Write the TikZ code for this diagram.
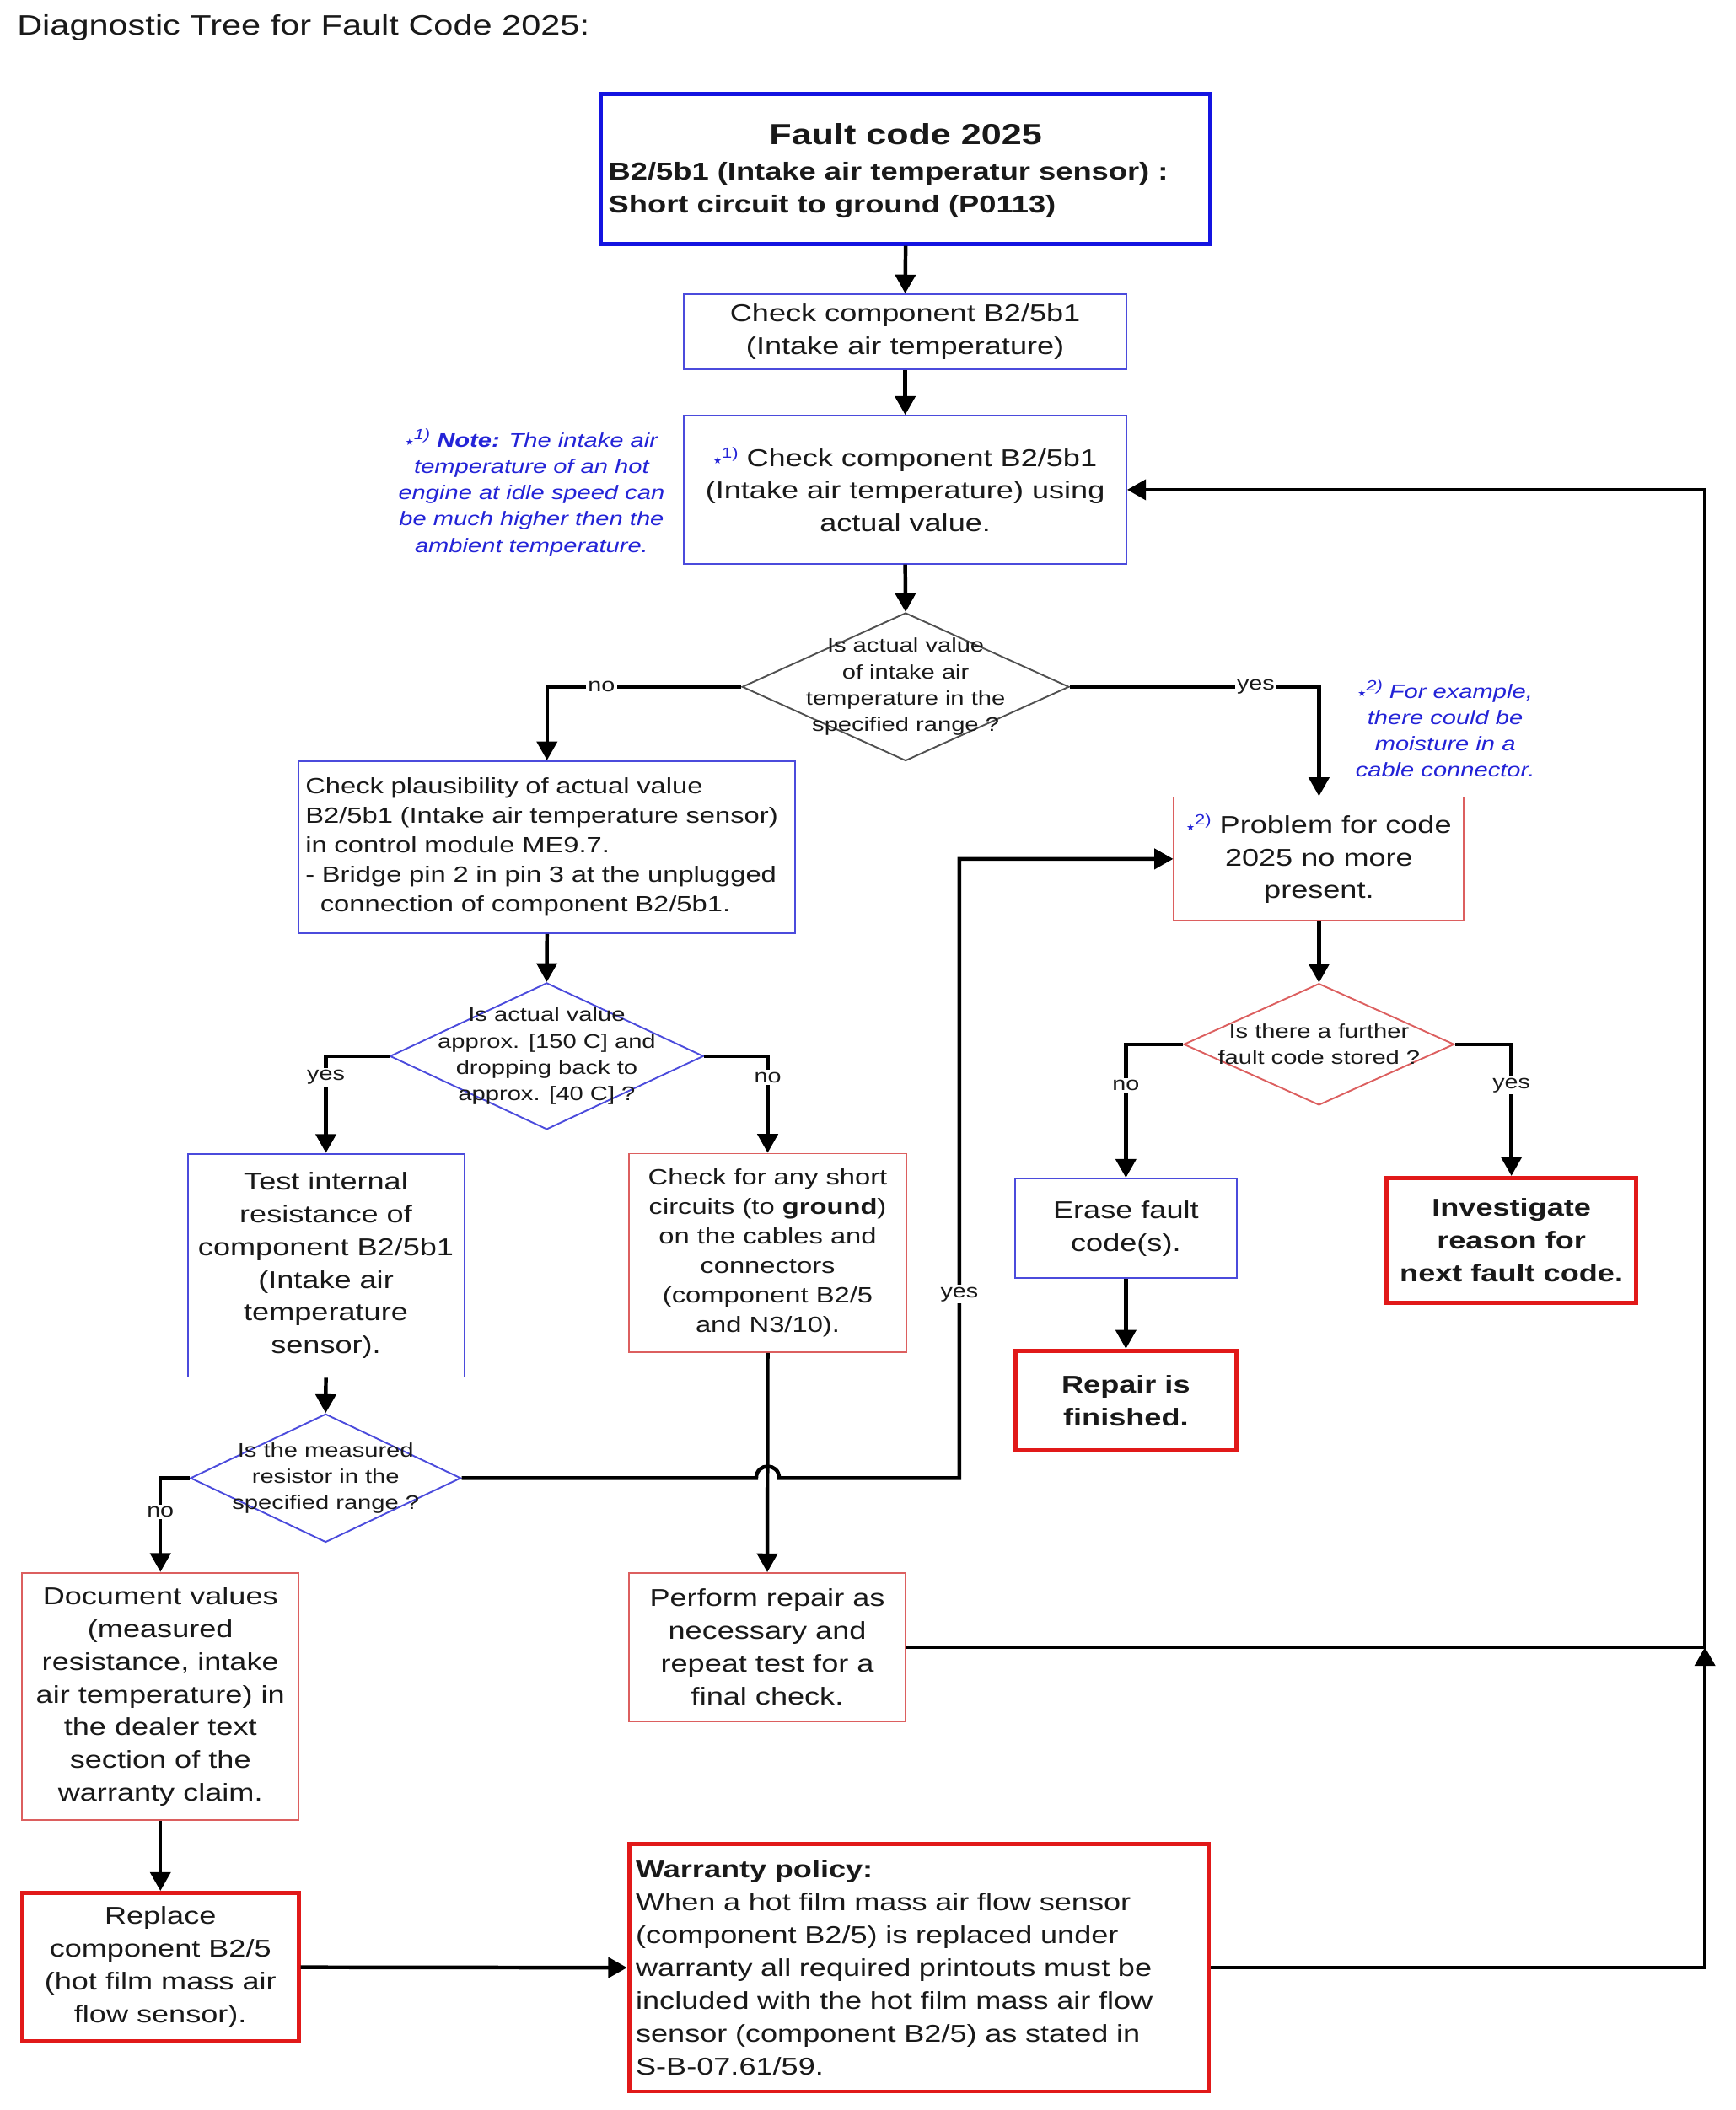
\documentclass[tikz,border=0pt]{standalone}
\usepackage{fontspec}
\setmainfont{Liberation Sans}[FakeStretch=1.25]
\newfontfamily\djv{DejaVu Sans}
\usetikzlibrary{arrows.meta,shapes.geometric}
\definecolor{txt}{RGB}{25,25,25}
\definecolor{topblue}{RGB}{20,20,225}
\definecolor{boxblue}{RGB}{75,75,220}
\definecolor{noteblue}{RGB}{35,35,215}
\definecolor{redthin}{RGB}{220,95,95}
\definecolor{redthick}{RGB}{225,25,25}
\definecolor{diagray}{RGB}{80,80,80}
\newcommand\fs[2]{\fontsize{#1}{#2}\selectfont}
\newcommand\fnm[1]{{\color{noteblue}\raisebox{1.5pt}{\djv\fs{7}{7}★}\fs{11}{11}\raisebox{6pt}{#1)}}}
\begin{document}
\begin{tikzpicture}[x=1pt,y=-1pt,
  sz/.style 2 args={minimum width=#1pt, minimum height=#2pt},
  box/.style={draw, line width=1.2pt, inner sep=0pt, align=center, text=txt, font=\fs{18.1}{24.4}},
  bbox/.style={box, draw=boxblue},
  rbox/.style={box, draw=redthin},
  rthick/.style={box, draw=redthick, line width=3pt},
  dia/.style={diamond, draw, line width=1.2pt, inner sep=0pt},
  dtext/.style={align=center, text=txt, font=\fs{14.6}{19.6}, inner sep=0pt},
  lbl/.style={fill=white, text=txt, inner sep=1.5pt, font=\fs{14.4}{16}},
  arr/.style={line width=2.8pt, -{Triangle[length=14pt,width=15pt]}},
  note/.style={text=noteblue, align=center, font=\fs{14.6}{19.5}\itshape, inner sep=0pt},
  plain/.style={text=txt, inner sep=0pt}
]
\useasboundingbox (0,0) rectangle (1290.1,1568.3);

% title
\node[plain, anchor=base west, font=\fs{20.8}{25}] (title) at (12.5,26) {Diagnostic Tree for Fault Code 2025:};

% top box
\node[draw=topblue, line width=3pt, sz={453}{111.3}, inner sep=0pt] (top) at (673,125.6) {};
\node[plain, anchor=base, font=\fs{21.6}{26}\bfseries] (t1) at (673,107.7) {Fault code 2025};
\node[plain, anchor=base west, font=\fs{18.2}{24}\bfseries] (t2) at (452,133.5) {B2/5b1 (Intake air temperatur sensor) :};
\node[plain, anchor=base west, font=\fs{18.2}{24}\bfseries] (t3) at (452,158.5) {Short circuit to ground (P0113)};

% boxes
\node[bbox, sz={328.7}{56}] (b2) at (672.7,246.7) {Check component B2/5b1\\(Intake air temperature)};
\node[bbox, sz={328.7}{110}] (b3) at (672.7,364) {\fnm{1} Check component B2/5b1\\(Intake air temperature) using\\actual value.};
\node[bbox, sz={369}{127.8}, text width=359pt, inner xsep=5pt, align=left, font=\fs{16.4}{22}] (b4) at (406.5,629.6)
  {Check plausibility of actual value\\B2/5b1 (Intake air temperature sensor)\\in control module ME9.7.\\- Bridge pin 2 in pin 3 at the unplugged\\\hspace*{11pt}connection of component B2/5b1.};
\node[rbox, sz={215.5}{92}] (b5) at (980.2,638.4) {\fnm{2} Problem for code\\2025 no more\\present.};
\node[bbox, sz={205.5}{166}] (b6) at (242.2,940.5) {Test internal\\resistance of\\component B2/5b1\\(Intake air\\temperature\\sensor).};
\node[rbox, sz={205.6}{147.5}, font=\fs{16.4}{22}] (b7) at (570.5,931.2) {Check for any short\\circuits (to \textbf{ground})\\on the cables and\\connectors\\(component B2/5\\and N3/10).};
\node[bbox, sz={164.5}{74}] (erase) at (836.7,913) {Erase fault\\code(s).};
\node[rthick, sz={164.5}{74}, font=\fs{18.1}{24.4}\bfseries] (repair) at (836.7,1041) {Repair is\\finished.};
\node[rthick, sz={185.5}{93}, font=\fs{18.1}{24.4}\bfseries] (invest) at (1123.2,922) {Investigate\\reason for\\next fault code.};
\node[rbox, sz={205.5}{184}] (doc) at (119.2,1261) {Document values\\(measured\\resistance, intake\\air temperature) in\\the dealer text\\section of the\\warranty claim.};
\node[rthick, sz={205.5}{110.5}] (replace) at (119.2,1462.2) {Replace\\component B2/5\\(hot film mass air\\flow sensor).};
\node[rbox, sz={205.5}{110}] (perform) at (570.2,1224.2) {Perform repair as\\necessary and\\repeat test for a\\final check.};
\node[rthick, sz={431}{184}, text width=421pt, inner xsep=5pt, align=left] (warranty) at (683,1462.5)
  {\textbf{Warranty policy:}\\When a hot film mass air flow sensor\\(component B2/5) is replaced under\\warranty all required printouts must be\\included with the hot film mass air flow\\sensor (component B2/5) as stated in\\S-B-07.61/59.};

% diamonds
\node[dia, draw=diagray, sz={243}{110}] (d1) at (673,510.5) {};
\node[dtext] (d1t) at (673,510.5) {Is actual value\\of intake air\\temperature in the\\specified range ?};
\node[dia, draw=boxblue, sz={233}{109}] (d2) at (406.3,785) {};
\node[dtext] (d2t) at (406.3,785) {Is actual value\\approx. [150 C] and\\dropping back to\\approx. [40 C] ?};
\node[dia, draw=redthin, sz={201}{90.4}] (d3) at (980.2,776.2) {};
\node[dtext] (d3t) at (980.2,776.2) {Is there a further\\fault code stored ?};
\node[dia, draw=boxblue, sz={201}{95.4}] (d4) at (242,1098.6) {};
\node[dtext] (d4t) at (242,1098.6) {Is the measured\\resistor in the\\specified range ?};

% notes
\node[note] (n1) at (395,366) {\fnm{1} \textbf{Note:} The intake air\\temperature of an hot\\engine at idle speed can\\be much higher then the\\ambient temperature.};
\node[note] (n2) at (1074,541.5) {\fnm{2} For example,\\there could be\\moisture in a\\cable connector.};

% connectors
\draw[arr] (top.south) -- (b2.north);
\draw[arr] (b2.south) -- (b3.north);
\draw[arr] (b3.south) -- (d1.north);
\draw[arr] (d1.west) -| node[lbl,pos=0.36] (l1) {no} (b4.north);
\draw[arr] (d1.east) -| node[lbl,pos=0.373] (l2) {yes} (b5.north);
\draw[arr] (b4.south) -- (d2.north);
\draw[arr] (d2.west) -| node[lbl,pos=0.61] (l3) {yes} (b6.north);
\draw[arr] (d2.east) -| node[lbl,pos=0.61] (l4) {no} (b7.north);
\draw[arr] (b5.south) -- (d3.north);
\draw[arr] (d3.west) -| node[lbl,pos=0.655] (l5) {no} (erase.north);
\draw[arr] (d3.east) -| node[lbl,pos=0.655] (l6) {yes} (invest.north);
\draw[arr] (erase.south) -- (repair.north);
\draw[arr] (b6.south) -- (d4.north);
\draw[arr] (d4.west) -| node[lbl,pos=0.68] (l7) {no} (doc.north);
\draw[arr] (d4.east) -- (562,1098.6) .. controls (562,1087) and (579,1087) .. (579,1098.6)
  -- (713,1098.6) -- node[lbl,pos=0.297] (l8) {yes} (713,638.4) -- (b5.west);
\draw[arr] (b7.south) -- (perform.north);
\draw[arr] (doc.south) -- (replace.north);
\draw[arr] (replace.east) -- (warranty.west);
\draw[arr] (perform.east) -- (1267,1224.2) coordinate (j) -- (1267,364) -- (b3.east);
\draw[arr] (warranty.east) -- (1267,1462.5) -- (j);
\end{tikzpicture}
\end{document}
